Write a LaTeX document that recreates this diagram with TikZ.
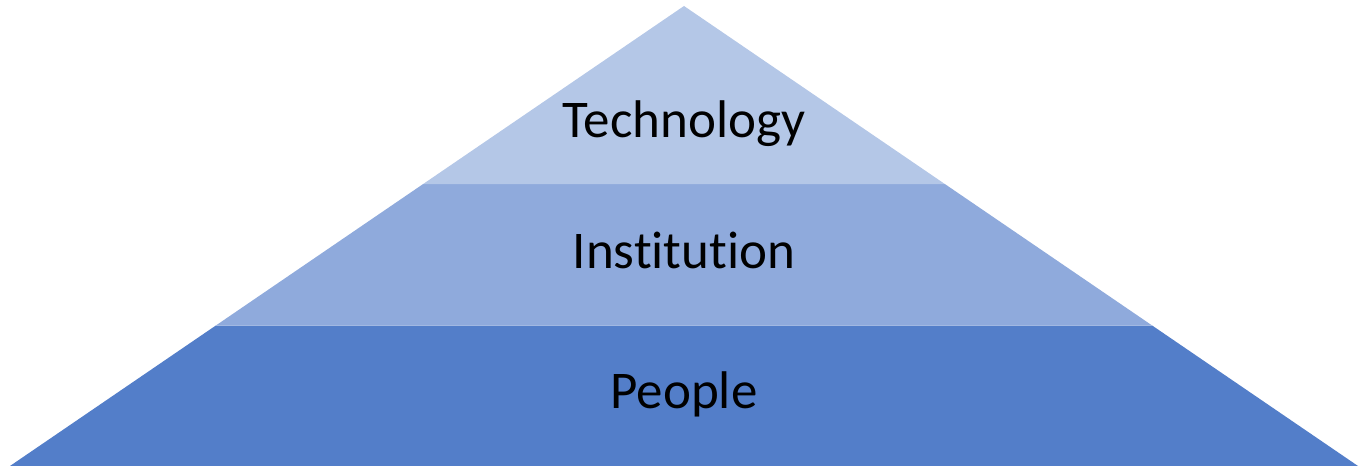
\documentclass[tikz,border=0pt]{standalone}
\usepackage{fontspec}
\setmainfont{Carlito}[Ligatures={NoCommon}]
\usetikzlibrary{calc}
\definecolor{topc}{HTML}{B4C7E7}
\definecolor{midc}{HTML}{8FAADC}
\definecolor{botc}{HTML}{537EC9}
\tikzset{lbl/.style={anchor=base, inner sep=0pt, font=\fontsize{53}{63}\selectfont, text=black}}
\begin{document}
\begin{tikzpicture}[x=1pt,y=1pt]
\useasboundingbox (0,0) rectangle (1361,470);
\coordinate (A) at (684,464);
\coordinate (L) at (10,4);
\coordinate (R) at (1358,4);
\coordinate (L1) at ($(L)!0.3054!(A)$);
\coordinate (R1) at ($(R)!0.3054!(A)$);
\coordinate (L2) at ($(L)!0.613!(A)$);
\coordinate (R2) at ($(R)!0.613!(A)$);
\fill[botc] (L) -- (R) -- (R1) -- (L1) -- cycle;
\fill[midc] (L1) -- (R1) -- (R2) -- (L2) -- cycle;
\fill[topc] (L2) -- (R2) -- (A) -- cycle;
\node[lbl] (tech) at (684,332) {Technology};
\node[lbl] (inst) at (684,201) {Institution};
\node[lbl] (peop) at (684,61) {People};
\end{tikzpicture}
\end{document}
